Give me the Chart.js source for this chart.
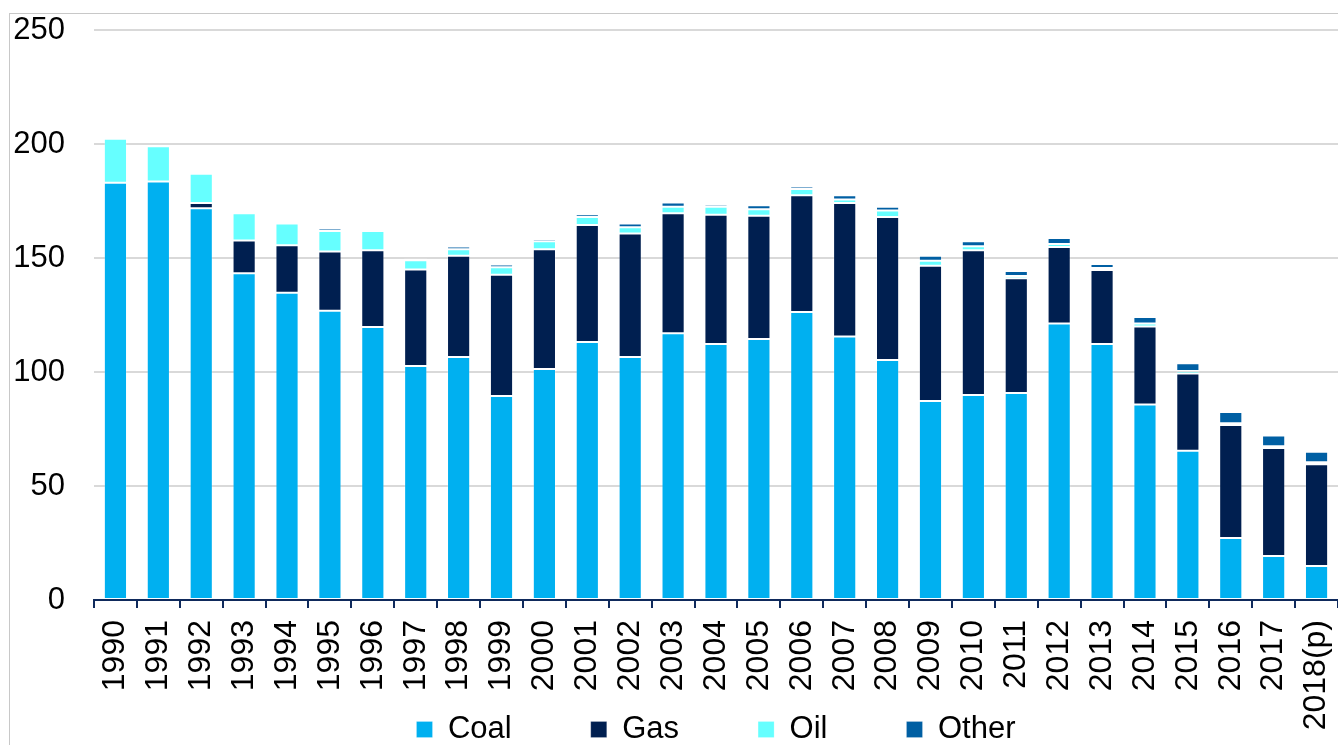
<!DOCTYPE html>
<html>
<head>
<meta charset="utf-8">
<script src="https://cdn.jsdelivr.net/npm/chart.js@4.4.1/dist/chart.umd.min.js"></script>
<style>
  html, body { margin: 0; padding: 0; background: #fff; overflow: hidden; }
  #wrap { position: relative; width: 1338px; height: 745px; }
</style>
</head>
<body>
<div id="wrap"><canvas id="emissionsChart"></canvas></div>
<script>
// categories
const years = ["1990", "1991", "1992", "1993", "1994", "1995", "1996", "1997", "1998", "1999",
  "2000", "2001", "2002", "2003", "2004", "2005", "2006", "2007", "2008", "2009",
  "2010", "2011", "2012", "2013", "2014", "2015", "2016", "2017", "2018(p)"];

// series values
const coal = [183.0, 183.6, 171.8, 143.3, 134.8, 126.9, 119.7, 102.6, 106.6, 89.5,
  101.3, 113.2, 106.6, 117.0, 112.3, 114.5, 126.3, 115.6, 105.3, 87.3,
  89.9, 90.8, 121.3, 112.3, 85.8, 65.5, 27.2, 19.3, 14.9];
const gas = [0, 0, 2.3, 14.4, 20.8, 25.9, 33.7, 42.4, 44.4, 53.2,
  52.5, 51.3, 54.1, 52.6, 56.7, 54.0, 51.2, 58.5, 62.7, 59.3,
  63.5, 50.3, 33.5, 32.4, 34.2, 33.8, 49.6, 47.4, 44.6];
const oil = [19.3, 15.4, 12.9, 11.9, 9.5, 9.0, 8.4, 4.0, 2.8, 3.2,
  3.5, 3.5, 2.8, 2.9, 3.5, 2.9, 2.8, 1.6, 2.8, 2.2,
  1.7, 1.0, 1.3, 0.9, 1.3, 1.1, 0.7, 0.7, 0.9];
const other = [0.7, 0.6, 0.6, 0.6, 0.5, 1.1, 0.5, 0.9, 1.2, 1.2,
  1.0, 1.2, 1.6, 1.8, 1.0, 1.7, 1.1, 1.8, 1.7, 2.2,
  2.2, 2.2, 2.7, 1.8, 2.8, 3.4, 5.0, 4.8, 4.6];

// y axis ticks
const yTicks = [0, 50, 100, 150, 200, 250];

const FONT = "'Liberation Sans', Arial, sans-serif";
const NAVY = "#0F2A5C";

// light grey frame round the chart, as in the original
const framePlugin = {
  id: "frame",
  beforeDraw(chart) {
    const ctx = chart.ctx;
    ctx.save();
    ctx.strokeStyle = "#C8C8C8";
    ctx.lineWidth = 1;
    ctx.strokeRect(9.5, 13.5, chart.width + 20, chart.height + 20);
    ctx.restore();
  }
};

function makeSet(label, data, color) {
  return {
    label: label,
    data: data,
    backgroundColor: color,
    borderColor: "rgba(255,255,255,0.2)",
    borderWidth: 1,
    borderSkipped: false,
    barPercentage: 0.54,
    categoryPercentage: 1.0
  };
}

const ctx = document.getElementById("emissionsChart").getContext("2d");

new Chart(ctx, {
  type: "bar",
  data: {
    labels: years,
    datasets: [
      makeSet("Coal", coal, "#00B0F0"),
      makeSet("Gas", gas, "#001F50"),
      makeSet("Oil", oil, "#66FFFF"),
      makeSet("Other", other, "#005FA3")
    ]
  },
  options: {
    responsive: true,
    maintainAspectRatio: false,
    animation: false,
    layout: { padding: { left: 0, top: 30, right: 0, bottom: -10 } },
    plugins: {
      tooltip: { enabled: false },
      legend: {
        position: "bottom",
        fullSize: false,
        labels: {
          font: { family: FONT, size: 31 },
          color: "#000",
          boxWidth: 16,
          boxHeight: 16,
          padding: 79
        }
      }
    },
    scales: {
      x: {
        stacked: true,
        offset: true,
        afterFit(scale) {
          // the year labels hang down beside the legend, so keep the box short
          scale.height = 35;
          scale.paddingLeft = 0;
          scale.paddingRight = 0;
          scale._computeLabelArea = () => undefined;
        },
        grid: {
          offset: true,
          drawOnChartArea: false,
          drawTicks: true,
          tickLength: 8,
          color: NAVY,
          lineWidth: 2
        },
        border: { display: true, color: NAVY, width: 2 },
        ticks: {
          minRotation: 90,
          maxRotation: 90,
          autoSkip: false,
          padding: 12,
          color: "#000",
          font: { family: FONT, size: 32 }
        }
      },
      y: {
        stacked: true,
        min: 0,
        max: 250,
        afterFit(scale) {
          scale.width = 94;
          scale.paddingTop = 0;
          scale.paddingBottom = 0;
        },
        afterBuildTicks(scale) { scale.ticks = yTicks.map(v => ({ value: v })); },
        grid: {
          color: "#D9D9D9",
          lineWidth: 2,
          drawTicks: false
        },
        border: { display: false },
        ticks: {
          padding: 29,
          color: "#000",
          font: { family: FONT, size: 31 }
        }
      }
    }
  },
  plugins: [framePlugin]
});
</script>
</body>
</html>
